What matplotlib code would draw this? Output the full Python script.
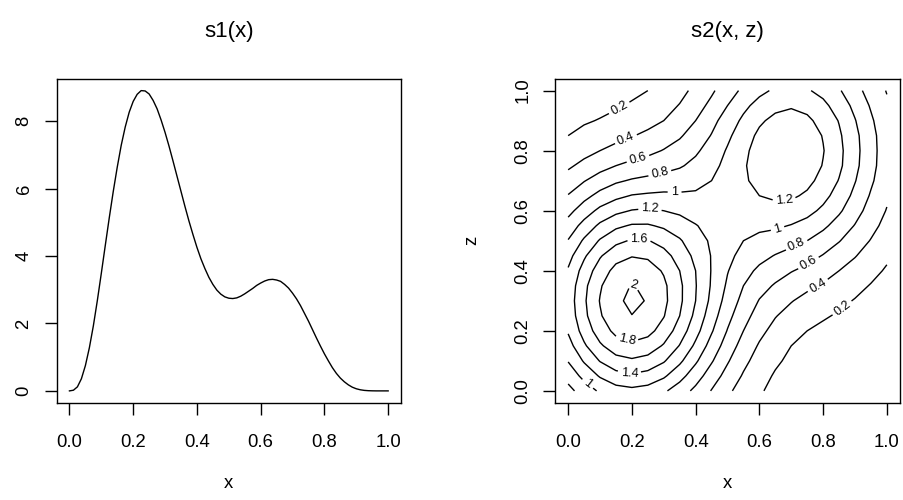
import matplotlib
matplotlib.use('Agg')
import matplotlib.pyplot as plt
import numpy as np

plt.rcParams['font.family'] = ['Liberation Sans', 'DejaVu Sans']

# s1(x), every 0.0125 in x
s1_x = np.linspace(0, 1, 81)
s1_y = [0.00, 0.02, 0.12, 0.36, 0.75, 1.28, 1.93, 2.68, 3.49, 4.32,
        5.14, 5.92, 6.64, 7.29, 7.83, 8.27, 8.59, 8.80, 8.91, 8.90,
        8.81, 8.62, 8.37, 8.04, 7.67, 7.26, 6.82, 6.37, 5.92, 5.47,
        5.04, 4.64, 4.26, 3.92, 3.63, 3.37, 3.16, 2.99, 2.87, 2.79,
        2.75, 2.74, 2.76, 2.81, 2.88, 2.96, 3.04, 3.13, 3.20, 3.26,
        3.30, 3.31, 3.29, 3.25, 3.16, 3.05, 2.90, 2.73, 2.53, 2.30,
        2.07, 1.82, 1.57, 1.33, 1.10, 0.89, 0.69, 0.52, 0.38, 0.27,
        0.18, 0.11, 0.063, 0.033, 0.015, 0.006, 0.002, 0.0, 0.0, 0.0,
        0.0]

# s2(x, z), estimated from the contour panel on a 0.05 grid (rows = z)
s2_x = np.linspace(0, 1, 21)
s2_z = np.linspace(0, 1, 21)
s2_f = np.array([
    [0.74, 0.89, 1.03, 1.12, 1.15, 1.12, 1.03, 0.90, 0.75, 0.59, 0.44, 0.31, 0.22, 0.15, 0.10, 0.06, 0.04, 0.03, 0.02, 0.01, 0.01],
    [0.87, 1.06, 1.22, 1.33, 1.37, 1.33, 1.23, 1.07, 0.89, 0.70, 0.53, 0.38, 0.27, 0.18, 0.12, 0.09, 0.06, 0.04, 0.03, 0.02, 0.02],
    [1.01, 1.22, 1.41, 1.53, 1.57, 1.53, 1.42, 1.24, 1.03, 0.82, 0.62, 0.45, 0.32, 0.23, 0.16, 0.12, 0.09, 0.06, 0.05, 0.03, 0.02],
    [1.12, 1.37, 1.57, 1.71, 1.76, 1.71, 1.58, 1.39, 1.16, 0.92, 0.71, 0.52, 0.38, 0.28, 0.20, 0.15, 0.12, 0.09, 0.07, 0.05, 0.04],
    [1.22, 1.48, 1.70, 1.85, 1.90, 1.86, 1.72, 1.51, 1.27, 1.02, 0.79, 0.60, 0.45, 0.34, 0.26, 0.20, 0.16, 0.13, 0.10, 0.07, 0.05],
    [1.27, 1.55, 1.78, 1.94, 1.997, 1.95, 1.81, 1.60, 1.35, 1.09, 0.86, 0.67, 0.52, 0.41, 0.33, 0.27, 0.22, 0.18, 0.14, 0.11, 0.08],
    [1.29, 1.57, 1.81, 1.97, 2.034, 1.99, 1.85, 1.64, 1.40, 1.15, 0.92, 0.74, 0.59, 0.49, 0.41, 0.34, 0.29, 0.24, 0.19, 0.14, 0.11],
    [1.27, 1.55, 1.78, 1.94, 2.008, 1.97, 1.84, 1.64, 1.41, 1.18, 0.97, 0.80, 0.67, 0.58, 0.50, 0.44, 0.38, 0.31, 0.25, 0.19, 0.14],
    [1.22, 1.48, 1.70, 1.86, 1.92, 1.89, 1.78, 1.60, 1.40, 1.19, 1.01, 0.87, 0.76, 0.68, 0.61, 0.55, 0.48, 0.40, 0.33, 0.25, 0.18],
    [1.13, 1.37, 1.58, 1.73, 1.79, 1.77, 1.67, 1.52, 1.35, 1.19, 1.05, 0.94, 0.86, 0.79, 0.73, 0.67, 0.59, 0.50, 0.41, 0.32, 0.23],
    [1.01, 1.23, 1.42, 1.55, 1.62, 1.61, 1.53, 1.42, 1.29, 1.17, 1.07, 1.00, 0.95, 0.91, 0.86, 0.80, 0.71, 0.61, 0.50, 0.39, 0.28],
    [0.88, 1.07, 1.24, 1.36, 1.42, 1.42, 1.37, 1.30, 1.21, 1.14, 1.08, 1.06, 1.04, 1.03, 0.99, 0.93, 0.84, 0.72, 0.59, 0.46, 0.34],
    [0.74, 0.90, 1.05, 1.15, 1.21, 1.23, 1.20, 1.16, 1.12, 1.10, 1.09, 1.11, 1.13, 1.14, 1.12, 1.06, 0.96, 0.83, 0.68, 0.52, 0.39],
    [0.61, 0.74, 0.86, 0.95, 1.01, 1.03, 1.04, 1.03, 1.03, 1.05, 1.09, 1.15, 1.20, 1.23, 1.23, 1.17, 1.06, 0.92, 0.75, 0.58, 0.43],
    [0.48, 0.59, 0.69, 0.77, 0.82, 0.85, 0.88, 0.90, 0.94, 1.00, 1.08, 1.17, 1.26, 1.31, 1.31, 1.25, 1.14, 0.99, 0.81, 0.63, 0.47],
    [0.37, 0.45, 0.53, 0.60, 0.65, 0.69, 0.73, 0.78, 0.85, 0.94, 1.06, 1.18, 1.28, 1.35, 1.36, 1.31, 1.19, 1.04, 0.85, 0.66, 0.49],
    [0.28, 0.34, 0.40, 0.46, 0.51, 0.55, 0.61, 0.67, 0.77, 0.88, 1.02, 1.16, 1.27, 1.35, 1.37, 1.32, 1.21, 1.05, 0.86, 0.67, 0.49],
    [0.20, 0.25, 0.30, 0.34, 0.39, 0.44, 0.50, 0.58, 0.68, 0.81, 0.96, 1.11, 1.24, 1.32, 1.34, 1.30, 1.19, 1.03, 0.85, 0.66, 0.49],
    [0.14, 0.18, 0.21, 0.25, 0.29, 0.34, 0.40, 0.49, 0.60, 0.74, 0.89, 1.04, 1.17, 1.25, 1.28, 1.24, 1.13, 0.99, 0.81, 0.63, 0.46],
    [0.10, 0.12, 0.15, 0.18, 0.22, 0.26, 0.33, 0.41, 0.52, 0.65, 0.80, 0.95, 1.07, 1.15, 1.18, 1.14, 1.05, 0.91, 0.75, 0.58, 0.43],
    [0.07, 0.08, 0.10, 0.13, 0.16, 0.20, 0.26, 0.34, 0.45, 0.57, 0.71, 0.84, 0.95, 1.03, 1.05, 1.02, 0.94, 0.82, 0.67, 0.52, 0.39],
])

levels = [0.2, 0.4, 0.6, 0.8, 1.0, 1.2, 1.4, 1.6, 1.8, 2.0]
x_ticks = [0.0, 0.2, 0.4, 0.6, 0.8, 1.0]
s1_ticks = [0, 2, 4, 6, 8]
z_ticks = [0.0, 0.2, 0.4, 0.6, 0.8, 1.0]

# where R put the contour labels (x, z)
label_spots = [
    (0.162, 0.939), (0.183, 0.834), (0.219, 0.773), (0.287, 0.728),
    (0.334, 0.662), (0.256, 0.601), (0.222, 0.496), (0.204, 0.350),
    (0.188, 0.180), (0.193, 0.063), (0.066, 0.030), (0.678, 0.636),
    (0.658, 0.537), (0.717, 0.485), (0.752, 0.429), (0.783, 0.352),
    (0.861, 0.274),
]

W, H = 904, 500
fig = plt.figure(figsize=(W / 100, H / 100), dpi=100)

def style_axes(ax):
    for sp in ax.spines.values():
        sp.set_linewidth(1.0)
    ax.tick_params(direction='out', length=8.4, width=1.0, labelsize=13.3)
    ax.tick_params(axis='x', pad=14.0)
    ax.tick_params(axis='y', pad=9.0, labelrotation=90)
    for lab in ax.get_yticklabels():
        lab.set_verticalalignment('center')

# left panel
ax1 = fig.add_axes([56.7 / W, 1 - 402.9 / H, 344.2 / W, 324.3 / H])
ax1.plot(s1_x, s1_y, color='black', lw=1.0)
ax1.margins(0.04)
ax1.set_xticks(x_ticks)
ax1.set_xticklabels([f'{t:.1f}' for t in x_ticks])
ax1.set_yticks(s1_ticks)
ax1.set_yticklabels([str(t) for t in s1_ticks])
style_axes(ax1)
ax1.set_xlabel('x', fontsize=13.3)
ax1.xaxis.set_label_coords(0.5, -0.2236)
fig.text(228.9 / W, 1 - 36.5 / H, 's1(x)', ha='center', va='baseline', fontsize=16)

# right panel
ax2 = fig.add_axes([555.4 / W, 1 - 402.9 / H, 344.2 / W, 324.3 / H])
cs = ax2.contour(s2_x, s2_z, s2_f, levels=levels, colors='black', linewidths=1.0)
ax2.clabel(cs, fmt=lambda v: f'{v:g}', fontsize=9, inline=True,
           inline_spacing=4, manual=label_spots)
ax2.set_xlim(-0.04, 1.04)
ax2.set_ylim(-0.04, 1.04)
ax2.set_xticks(x_ticks)
ax2.set_xticklabels([f'{t:.1f}' for t in x_ticks])
ax2.set_yticks(z_ticks)
ax2.set_yticklabels([f'{t:.1f}' for t in z_ticks])
style_axes(ax2)
ax2.set_xlabel('x', fontsize=13.3)
ax2.xaxis.set_label_coords(0.5, -0.2236)
ax2.set_ylabel('z', fontsize=13.3)
ax2.yaxis.set_label_coords(-0.2173, 0.5)
fig.text(727.5 / W, 1 - 36.5 / H, 's2(x, z)', ha='center', va='baseline', fontsize=16)

fig.savefig('out.png', dpi=100)
